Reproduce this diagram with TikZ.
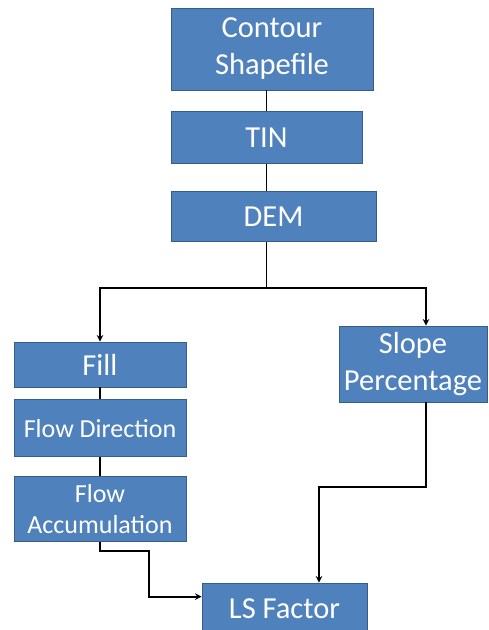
\documentclass[tikz,border=0pt]{standalone}
\usepackage{fontspec}
\setmainfont{Carlito}
\usepackage{tikz}
\usetikzlibrary{arrows,positioning,calc}
\usepackage{xcolor}
\definecolor{stepblue}{RGB}{79,129,189}
\definecolor{stepborder}{RGB}{56,93,138}

\begin{document}
\begin{tikzpicture}[
    x=1pt, y=1pt,
    box/.style={rectangle, draw=stepborder, line width=0.8pt, fill=stepblue,
                text=white, align=center, inner sep=0pt,
                font=\fontsize{30.5}{37}\selectfont},
    smallbox/.style={box, font=\fontsize{26}{31}\selectfont},
    link/.style={line width=1.9pt, color=black},
    arrow/.style={->, >=stealth, line width=1.9pt, color=black}
]
\useasboundingbox (0,0) rectangle (489,-630);

% Main chain
\node[box, minimum width=202pt, minimum height=82pt] (contour) at (272,-49) {Contour\\Shapefile};
\node[box, minimum width=191pt, minimum height=52pt, below=21pt of contour.south west, anchor=north west] (tin) {TIN};
\node[box, minimum width=205pt, minimum height=50pt, below=27pt of tin.south west, anchor=north west] (dem) {DEM};

% Left branch
\node[box, minimum width=172pt, minimum height=45pt] (fill) at (100,-364.5) {Fill};
\node[smallbox, minimum width=172pt, minimum height=57pt, below=12pt of fill] (flowdir) {Flow Direction};
\node[smallbox, minimum width=172pt, minimum height=65pt, below=19pt of flowdir] (flowacc) {Flow\\Accumulation};

% Right branch
\node[box, minimum width=148pt, minimum height=76pt] (slope) at (413,-364) {Slope\\Percentage};

% Result
\node[box, minimum width=165pt, minimum height=52pt] (ls) at (284.5,-609) {LS Factor};

% Connectors
\draw[link] (tin.north) -- (tin.north |- contour.south);
\draw[link] (tin.south) -- (tin.south |- dem.north);
\coordinate (split) at (tin.south |- 0,-288);
\draw[link] (tin.south |- dem.south) -- (split);
\draw[arrow] (split) -| (fill.north);
\draw[arrow] (split) -| ($(slope.north)+(13,0)$);
\draw[link] (fill.south) -- (flowdir.north);
\draw[link] (flowdir.south) -- (flowacc.north);

\coordinate (lsleft) at ($(ls.north west)+(0,-14)$);
\coordinate (lstop) at ($(ls.north)+(34.5,0)$);
\draw[arrow] (flowacc.south) |- (149,-551) |- (lsleft);
\draw[arrow] ($(slope.south)+(13,0)$) |- (lstop |- 0,-487) -- (lstop);

\end{tikzpicture}
\end{document}
